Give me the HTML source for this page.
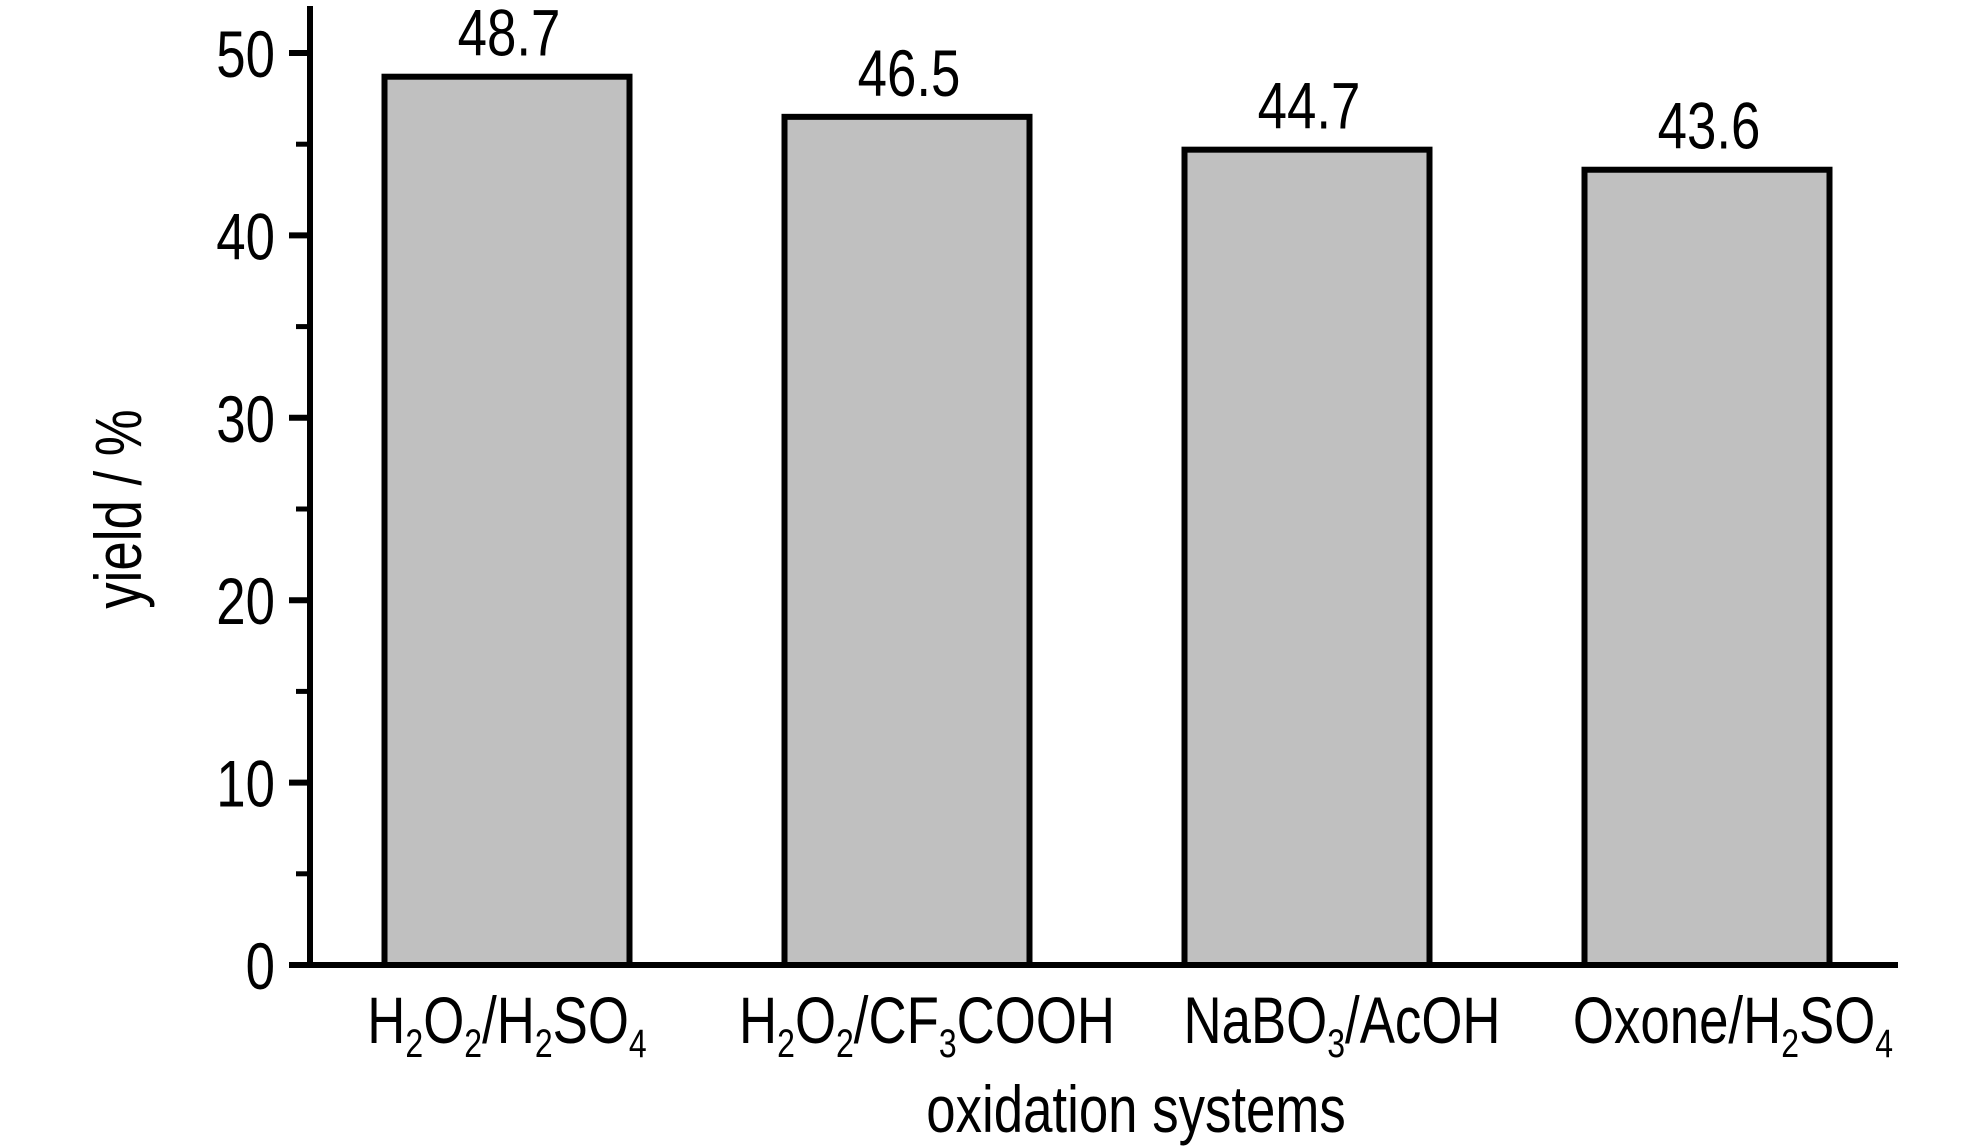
<!DOCTYPE html>
<html><head><meta charset="utf-8"><style>
html,body{margin:0;padding:0;background:#fff;}
svg{display:block;font-family:"Liberation Sans",Arial,sans-serif;}
</style></head><body>
<svg id="chart" width="1984" height="1146" viewBox="0 0 1984 1146" xmlns="http://www.w3.org/2000/svg">
<g id="plot"></g>
</svg>
<script>
const categories = ["H2O2/H2SO4", "H2O2/CF3COOH", "NaBO3/AcOH", "Oxone/H2SO4"];
const values = [48.7, 46.5, 44.7, 43.6];
const valueLabels = ["48.7", "46.5", "44.7", "43.6"];
const yTicks = [0, 10, 20, 30, 40, 50];
const yMinorTicks = [5, 15, 25, 35, 45];

const NS = "http://www.w3.org/2000/svg";
const g = document.getElementById("plot");
const axisX = 310, y0 = 965, pxPer = 18.24;
const yScale = v => y0 - v * pxPer;
const xCenter = i => 507 + i * 400;
const barW = 245;
const SX = 0.8, FS = 66;

function mk(tag, attrs) {
  const e = document.createElementNS(NS, tag);
  for (const k in attrs) e.setAttribute(k, attrs[k]);
  g.appendChild(e);
  return e;
}
// Text with compressed width; parts: [[text, isSub], ...]
function ctext(x, y, parts, anchor) {
  const t = document.createElementNS(NS, "text");
  t.setAttribute("transform", "translate(" + x + "," + y + ") scale(" + SX + ",1)");
  t.setAttribute("font-size", FS);
  t.setAttribute("text-anchor", anchor || "middle");
  t.setAttribute("fill", "#000");
  parts.forEach(p => {
    const s = document.createElementNS(NS, "tspan");
    s.textContent = p[0];
    if (p[1]) { s.setAttribute("font-size", 40); s.setAttribute("dy", 14); }
    else if (s && t.childNodes.length && t.lastChild.getAttribute && t.lastChild.getAttribute("dy") === "14") { s.setAttribute("dy", -14); }
    t.appendChild(s);
  });
  g.appendChild(t);
  return t;
}
function chem(str) {
  const parts = [];
  for (const ch of str) {
    const sub = /[0-9]/.test(ch);
    if (parts.length && parts[parts.length - 1][1] === sub) parts[parts.length - 1][0] += ch;
    else parts.push([ch, sub]);
  }
  return parts;
}

// bars
values.forEach((v, i) => {
  const r = mk("rect", {x: xCenter(i) - barW / 2, y: yScale(v), width: barW, height: y0 - yScale(v),
    fill: "#c0c0c0", stroke: "#000", "stroke-width": 6});
  
  
  const lbl = ctext(xCenter(i) + 2, yScale(v) - 21, [[valueLabels[i], false]]);
  
  
});

// axes
const ya = mk("line", {x1: axisX, y1: 6, x2: axisX, y2: y0 + 3, stroke: "#000", "stroke-width": 6});


const xa = mk("line", {x1: 291, y1: y0, x2: 1898, y2: y0, stroke: "#000", "stroke-width": 6});



yTicks.forEach(v => {
  const t = mk("line", {x1: 289, y1: yScale(v), x2: axisX, y2: yScale(v), stroke: "#000", "stroke-width": 6});
  
  
  const l = ctext(275, yScale(v) + 24, [[String(v), false]], "end");
  
  
});
yMinorTicks.forEach(v => {
  const t = mk("line", {x1: 296, y1: yScale(v), x2: axisX, y2: yScale(v), stroke: "#000", "stroke-width": 5});
  
  
});

// category labels
const labelShift = [0, 20, 35, 26];
categories.forEach((c, i) => {
  const l = ctext(xCenter(i) + labelShift[i], 1043, chem(c));
  
  
});

// axis titles
const xt = ctext(1136, 1132, [["oxidation systems", false]]);


const yt = document.createElementNS(NS, "text");
yt.setAttribute("transform", "translate(141,509) rotate(-90) scale(" + SX + ",1)");
yt.setAttribute("font-size", FS);
yt.setAttribute("text-anchor", "middle");
yt.textContent = "yield / %";


g.appendChild(yt);
</script>
</body></html>
